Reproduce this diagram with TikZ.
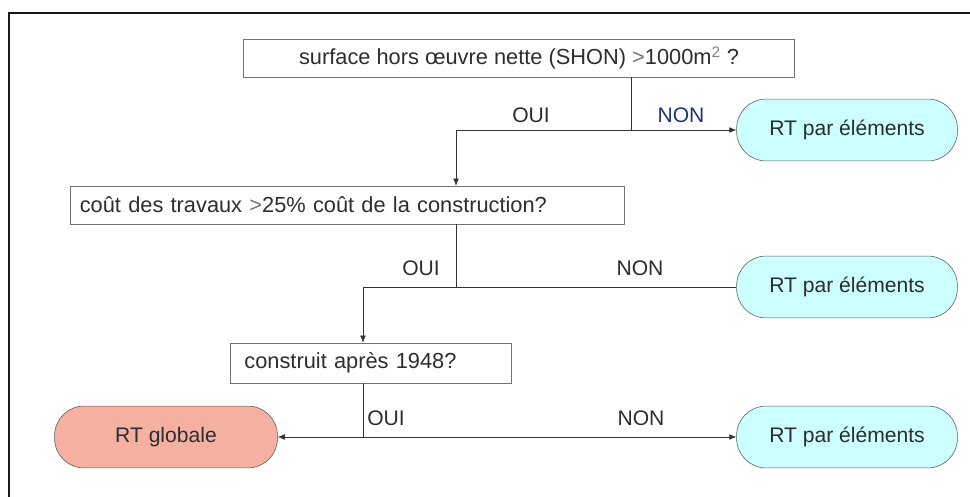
\documentclass[tikz,border=0pt]{standalone}
\usepackage{fontspec}
\setmainfont{Liberation Sans}
\usetikzlibrary{positioning, arrows.meta}

\definecolor{rtcyan}{RGB}{204,255,255}
\definecolor{rtsalmon}{RGB}{245,176,162}
\definecolor{txtgray}{RGB}{45,45,45}
\definecolor{nonblue}{RGB}{30,55,110}

\begin{document}
\begin{tikzpicture}[
    x=0.025cm, y=-0.025cm,
    every node/.style={font=\fontsize{15.5}{18}\selectfont, text=txtgray},
    question/.style={draw=black!55, rectangle, minimum height=27pt, inner sep=0pt},
    leftq/.style={question, align=left, inner xsep=7pt},
    rtelem/.style={draw=black!65, fill=rtcyan, rectangle, rounded corners=21pt,
                   minimum width=157pt, minimum height=44pt,
                   font=\fontsize{15}{18}\selectfont},
    rtglob/.style={rtelem, fill=rtsalmon},
    link/.style={draw=black!80, thin},
    arr/.style={-{Latex[length=5pt,width=4pt]}},
    choice/.style={font=\fontsize{15}{18}\selectfont}
]

% ============================================================
% PAGE AND FRAME (pixel grid, y downwards)
% ============================================================
\useasboundingbox (0,0) rectangle (970,497);
\draw[line width=1.6pt, black!90] (9,497) -- (9,13) -- (970,13);

% ============================================================
% Question 1: surface (SHON)
% Rect: (243,39) to (795,77)
% ============================================================
\node[question, minimum width=392pt] (shon) at (519,58)
    {surface hors \oe uvre nette (SHON) \textcolor{black!55}{>}1000m\textsuperscript{\textcolor{black!50}{2}} ?};
\node[rtelem] (rtElemA) at (847,130) {RT par éléments};

\coordinate (jA) at (631,130);
\coordinate (kA) at (456,130);
\node[choice] (ouiA) at (531,115) {OUI};
\node[choice, text=nonblue] (nonA) at (681,115) {NON};

% ============================================================
% Question 2: cout des travaux
% Rect: (70,186) to (625,224)
% ============================================================
\node[leftq, text width=380pt, minimum height=27pt] (cout) at (347,205)
    {coût des travaux \textcolor{black!55}{>}25\% coût de la construction?};
\node[rtelem] (rtElemB) at (847,287) {RT par éléments};

\coordinate (jB) at (456,287);
\coordinate (kB) at (363,287);
\node[choice] (ouiB) at (421,268) {OUI};
\node[choice] (nonB) at (640,268) {NON};

% ============================================================
% Question 3: annee de construction
% Rect: (230,343) to (512,383)
% ============================================================
\node[leftq, inner xsep=10pt, text width=180pt, minimum height=28.5pt] (annee) at (371,363)
    {construit après 1948?};
\node[rtglob, minimum width=158.5pt] (rtGlob) at (166,437) {RT globale};
\node[rtelem] (rtElemC) at (847,437) {RT par éléments};

\coordinate (jC) at (363,437);
\node[choice] (ouiC) at (386,418) {OUI};
\node[choice] (nonC) at (641,418) {NON};

% ============================================================
% CONNECTIONS
% ============================================================
\draw[link] (shon.south -| jA) -- (jA);
\draw[link, arr] (jA) -- (rtElemA.west);
\draw[link, arr] (jA) -- (kA) -- (kA |- cout.north);

\draw[link] (cout.south -| jB) -- (jB);
\draw[link] (jB) -- (rtElemB.west);
\draw[link, arr] (jB) -- (kB) -- (kB |- annee.north);

\draw[link] (annee.south -| jC) -- (jC);
\draw[link, arr] (jC) -- (rtGlob.east);
\draw[link, arr] (jC) -- (rtElemC.west);

\end{tikzpicture}
\end{document}
